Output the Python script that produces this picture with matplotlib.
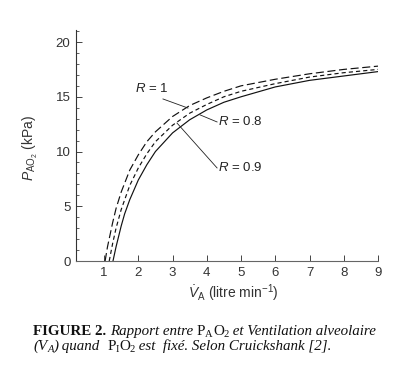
import matplotlib
matplotlib.use("Agg")
import matplotlib.pyplot as plt

# ---- data ----
va_r1 = [1.03, 1.1, 1.25, 1.35, 1.5, 1.75, 2.0, 2.25, 2.5, 3.0, 3.5, 4.0, 4.5, 5.0, 6.0, 7.0, 8.0, 9.0]
pao2_r1 = [0.0, 1.3, 3.5, 4.8, 6.3, 8.3, 9.7, 10.9, 11.8, 13.2, 14.2, 14.9, 15.5, 16.0, 16.6, 17.1, 17.5, 17.8]

va_r09 = [1.15, 1.25, 1.35, 1.5, 1.75, 2.0, 2.25, 2.5, 3.0, 3.5, 4.0, 4.5, 5.0, 6.0, 7.0, 8.0, 9.0]
pao2_r09 = [0.0, 1.6, 3.0, 4.7, 6.9, 8.5, 9.8, 10.9, 12.4, 13.5, 14.3, 15.0, 15.5, 16.2, 16.8, 17.2, 17.5]

va_r08 = [1.26, 1.35, 1.5, 1.6, 1.75, 2.0, 2.25, 2.5, 3.0, 3.5, 4.0, 4.5, 5.0, 6.0, 7.0, 8.0, 9.0]
pao2_r08 = [0.0, 1.3, 3.2, 4.3, 5.6, 7.4, 8.8, 10.0, 11.7, 12.9, 13.8, 14.5, 15.0, 15.9, 16.5, 16.9, 17.3]

x_ticks = [1, 2, 3, 4, 5, 6, 7, 8, 9]
y_ticks = [0, 5, 10, 15, 20]
labels = ["R = 1", "R = 0.8", "R = 0.9"]

# ---- style ----
plt.rcParams["font.family"] = ["Liberation Sans", "DejaVu Sans"]
plt.rcParams["mathtext.fontset"] = "custom"
plt.rcParams["mathtext.rm"] = "Liberation Sans"
plt.rcParams["mathtext.it"] = "Liberation Sans:italic"
plt.rcParams["mathtext.bf"] = "Liberation Sans:bold"
plt.rcParams["lines.scale_dashes"] = False

W, H = 403, 366
fig = plt.figure(figsize=(W / 100, H / 100), dpi=100)
ax = fig.add_axes([76 / W, 1 - 261 / H, (378 - 76) / W, (261 - 30) / H])

ax.plot(va_r1, pao2_r1, color="#111111", lw=0.85, dashes=(5.8, 2.6))
ax.plot(va_r09, pao2_r09, color="#111111", lw=0.85, dashes=(3.0, 2.2))
ax.plot(va_r08, pao2_r08, color="#111111", lw=0.85)

ax.set_xlim(0.18, 9)
ax.set_ylim(0, 21.1)
ax.set_xticks(x_ticks)
ax.set_yticks(y_ticks)
ax.set_yticks(range(0, 22), minor=True)
ax.tick_params(direction="in", length=4, width=0.7, colors="#444444",
               labelcolor="#333333", labelsize=9.5, pad=4)
ax.tick_params(axis="y", which="minor", direction="in", length=2, width=0.6, colors="#444444")
for s in ["top", "right"]:
    ax.spines[s].set_visible(False)
ax.spines["left"].set_color("#333333")
ax.spines["bottom"].set_color("#666666")
ax.spines["left"].set_linewidth(0.8)
ax.spines["bottom"].set_linewidth(0.8)

ax.set_ylabel(r"$P_{\mathrm{AO}_2}$ (kPa)", fontsize=10, color="#333333")
ax.yaxis.set_label_coords(-0.119, 0.49)
ax.set_xlabel(r"$\dot{V}_{\mathrm{A}}$ (litre min$^{-1}$)", fontsize=10, color="#333333")
ax.xaxis.set_label_coords(0.52, -0.095)

# annotations
def lab(text, x, y):
    ax.text(x, y, r"$R$" + text[1:], fontsize=9.5, color="#222222", va="center", ha="left")

lab(labels[0], 1.90, 15.8)
ax.plot([2.72, 3.45], [14.8, 13.97], color="#222222", lw=0.6)
lab(labels[1], 4.33, 12.75)
ax.plot([4.30, 3.80], [12.7, 13.35], color="#222222", lw=0.6)
lab(labels[2], 4.33, 8.5)
ax.plot([4.30, 3.13], [8.5, 12.6], color="#222222", lw=0.6)

# ---- caption (rich text built from runs) ----
renderer = fig.canvas.get_renderer()
SERIF = "Liberation Serif"
FS = 10.8

def width_of(text, **kw):
    t1 = fig.text(0, 0, text + "|", fontfamily=SERIF, **kw)
    t2 = fig.text(0, 0, "|", fontfamily=SERIF, **kw)
    w = t1.get_window_extent(renderer).width - t2.get_window_extent(renderer).width
    t1.remove(); t2.remove()
    return w

def rich(x, y, runs):
    for text, kw, dy in runs:
        fig.text(x / W, 1 - (y + dy) / H, text, fontfamily=SERIF, va="baseline",
                 color="#111111", **kw)
        x += width_of(text, **kw)

B = dict(fontsize=FS, fontweight="bold")
I = dict(fontsize=FS, fontstyle="italic")
Rn = dict(fontsize=FS)
S = dict(fontsize=FS * 0.7)
SI = dict(fontsize=FS * 0.7, fontstyle="italic")

rich(33, 335, [
    ("FIGURE 2. ", B, 0),
    ("Rapport entre ", I, 0),
    ("P", Rn, 0), ("A", S, 2), ("O", Rn, 0), ("2", S, 2),
    (" et Ventilation alveolaire", I, 0),
])
rich(33, 350, [
    ("(V", I, 0), ("A", SI, 2), (") quand  ", I, 0),
    ("P", Rn, 0), ("I", S, 2), ("O", Rn, 0), ("2", S, 2),
    (" est  fixé. Selon Cruickshank [2].", I, 0),
])

fig.savefig("out.png", dpi=100)
